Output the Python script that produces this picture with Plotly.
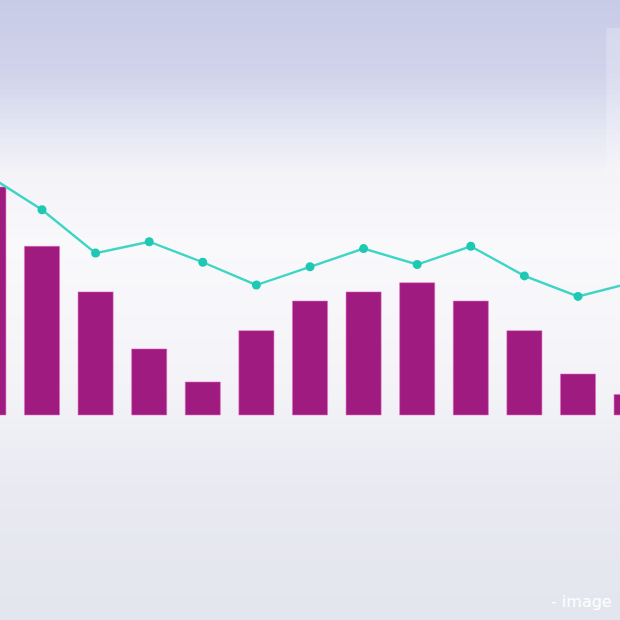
import plotly.graph_objects as go

# values (arbitrary units, baseline = 0)
periods = list(range(13))
bar_values = [100, 74, 54, 29, 14.5, 37, 50, 54, 58, 50, 37, 18, 9]
line_values = [105, 90, 71, 76, 67, 57, 65, 73, 66, 74, 61, 52, 58]

W = H = 620

# background: vertical gradient stops (fraction from top, colour)
bg_stops = [
    (0.00, (200, 203, 230)),
    (0.12, (208, 211, 234)),
    (0.21, (228, 230, 243)),
    (0.28, (243, 243, 248)),
    (0.40, (249, 249, 252)),
    (0.61, (244, 244, 248)),
    (0.73, (236, 237, 243)),
    (0.84, (231, 232, 240)),
    (1.00, (227, 230, 238)),
]


def bg_color(t):
    for (t0, c0), (t1, c1) in zip(bg_stops, bg_stops[1:]):
        if t0 <= t <= t1:
            f = (t - t0) / (t1 - t0)
            r, g, b = (round(a + (bb - a) * f) for a, bb in zip(c0, c1))
            return f"rgb({r},{g},{b})"
    return "rgb(227,230,238)"


n_bands = 124
shapes = []
for k in range(n_bands):
    top = 1 - k / n_bands
    bot = 1 - (k + 1) / n_bands
    shapes.append(dict(type="rect", xref="paper", yref="paper", x0=0, x1=1,
                       y0=bot, y1=top + 0.002, fillcolor=bg_color((k + 0.5) / n_bands),
                       line=dict(width=0), layer="below"))

# faint light panel at the right edge
shapes.append(dict(type="rect", xref="paper", yref="paper", x0=0.978, x1=1.02,
                   y0=1 - 175 / H, y1=1 - 28 / H, fillcolor="rgba(255,255,255,0.22)",
                   line=dict(width=0), layer="below"))

fig = go.Figure()

fig.add_trace(go.Bar(
    x=periods, y=bar_values, width=0.655,
    marker=dict(color="#a01b7f", line=dict(color="rgba(225,110,195,0.55)", width=1)),
    hoverinfo="skip",
))

fig.add_trace(go.Scatter(
    x=periods, y=line_values, mode="lines+markers",
    line=dict(color="#3fd5c5", width=2.4),
    marker=dict(color="#1ec8b3", size=9),
    hoverinfo="skip",
))

px_per_unit = 2.28
base_px = 415
fig.update_xaxes(range=[1 - 42 / 53.6, 1 + 578 / 53.6], visible=False, fixedrange=True)
fig.update_yaxes(range=[-(H - base_px) / px_per_unit, base_px / px_per_unit],
                 visible=False, fixedrange=True)

fig.add_annotation(text="- image", xref="paper", yref="paper", x=0.99, y=1 - 601 / H,
                   xanchor="right", yanchor="middle", showarrow=False,
                   font=dict(family="DejaVu Sans", size=16, color="white"))

fig.update_layout(
    width=W, height=H,
    margin=dict(l=0, r=0, t=0, b=0),
    paper_bgcolor="rgb(240,240,246)",
    plot_bgcolor="rgba(0,0,0,0)",
    showlegend=False,
    shapes=shapes,
)

fig.write_html("out.html", config={"displayModeBar": False},
               post_script="document.body.style.margin='0';document.body.style.overflow='hidden';")
